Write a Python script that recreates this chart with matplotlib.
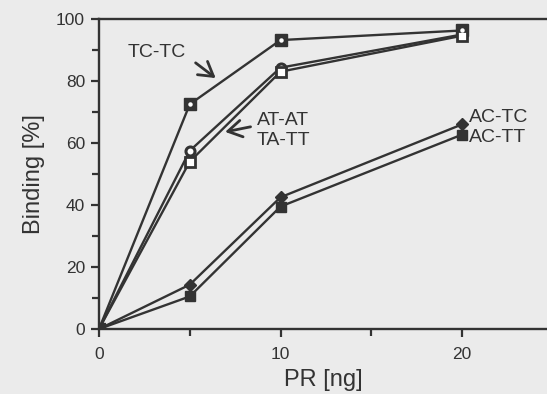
import matplotlib
matplotlib.use("Agg")
import matplotlib.pyplot as plt

pr = [0, 5, 10, 20]
tc_tc = [0, 72.5, 93.2, 96.3]
at_at = [0, 57.5, 84.3, 95.0]
ta_tt = [0, 54.0, 83.0, 94.6]
ac_tc = [0, 14.3, 42.5, 66.0]
ac_tt = [0, 10.5, 39.5, 62.7]

xticks = [0, 10, 20]
yticks = [0, 20, 40, 60, 80, 100]

ink = "#333333"
bg = "#ebebeb"
plt.rcParams['font.family'] = ['Liberation Sans', 'DejaVu Sans']

fig = plt.figure(figsize=(5.47, 3.94), dpi=100, facecolor=bg)
ax = fig.add_axes([99/547, 1-329/394, 448/547, (329-19)/394])
ax.set_facecolor(bg)

lw = 1.7
ax.plot(pr, tc_tc, color=ink, lw=lw, marker='s', ms=8, mfc=ink, mec=ink, zorder=3)
ax.plot(pr[1:], tc_tc[1:], ls='none', marker='o', ms=2.2, mfc='white', mec='white', zorder=4)
ax.plot(pr, at_at, color=ink, lw=lw, marker='o', ms=6.5, mfc='white', mec=ink, mew=2.2, zorder=3)
ax.plot(pr, ta_tt, color=ink, lw=lw, marker='s', ms=6.5, mfc='white', mec=ink, mew=2, zorder=3)
ax.plot(pr, ac_tc, color=ink, lw=lw, marker='D', ms=6.5, mfc=ink, mec=ink, zorder=3)
ax.plot(pr, ac_tt, color=ink, lw=lw, marker='s', ms=7.5, mfc=ink, mec=ink, zorder=3)

ax.set_xlim(0, 24.68)
ax.set_ylim(0, 100)
ax.set_xticks(xticks)
ax.set_xticks([5, 15], minor=True)
ax.set_yticks(yticks)
ax.set_yticks([10, 30, 50, 70, 90], minor=True)
for s in ['left', 'bottom', 'top']:
    ax.spines[s].set_color(ink)
    ax.spines[s].set_linewidth(1.7)
ax.spines['right'].set_visible(False)
ax.tick_params(which='both', direction='out', color=ink, width=1.6)
ax.tick_params(which='major', length=6, labelsize=12.5, labelcolor=ink)
ax.tick_params(which='minor', length=5)
ax.tick_params(axis='x', pad=7)
ax.tick_params(axis='y', pad=4)

ax.set_xlabel("PR [ng]", fontsize=17, color=ink, labelpad=5)
ax.set_ylabel("Binding [%]", fontsize=17, color=ink, labelpad=8)

fs = 14
aprops = dict(arrowstyle='->,head_length=1.0,head_width=0.6', color=ink, lw=2.0)
ax.text(3.16, 89.2, "TC-TC", fontsize=fs, color=ink, ha='center', va='center')
ax.annotate("", xy=(6.55, 80.4), xytext=(5.2, 86.4), arrowprops=aprops)
ax.text(8.7, 67.2, "AT-AT", fontsize=fs, color=ink, ha='left', va='center')
ax.text(8.7, 60.7, "TA-TT", fontsize=fs, color=ink, ha='left', va='center')
ax.annotate("", xy=(6.8, 63.4), xytext=(8.5, 65.4), arrowprops=aprops)
ax.text(20.4, 68.3, "AC-TC", fontsize=fs, color=ink, ha='left', va='center')
ax.text(20.4, 61.8, "AC-TT", fontsize=fs, color=ink, ha='left', va='center')

fig.savefig("out.png", dpi=100, facecolor=bg)
